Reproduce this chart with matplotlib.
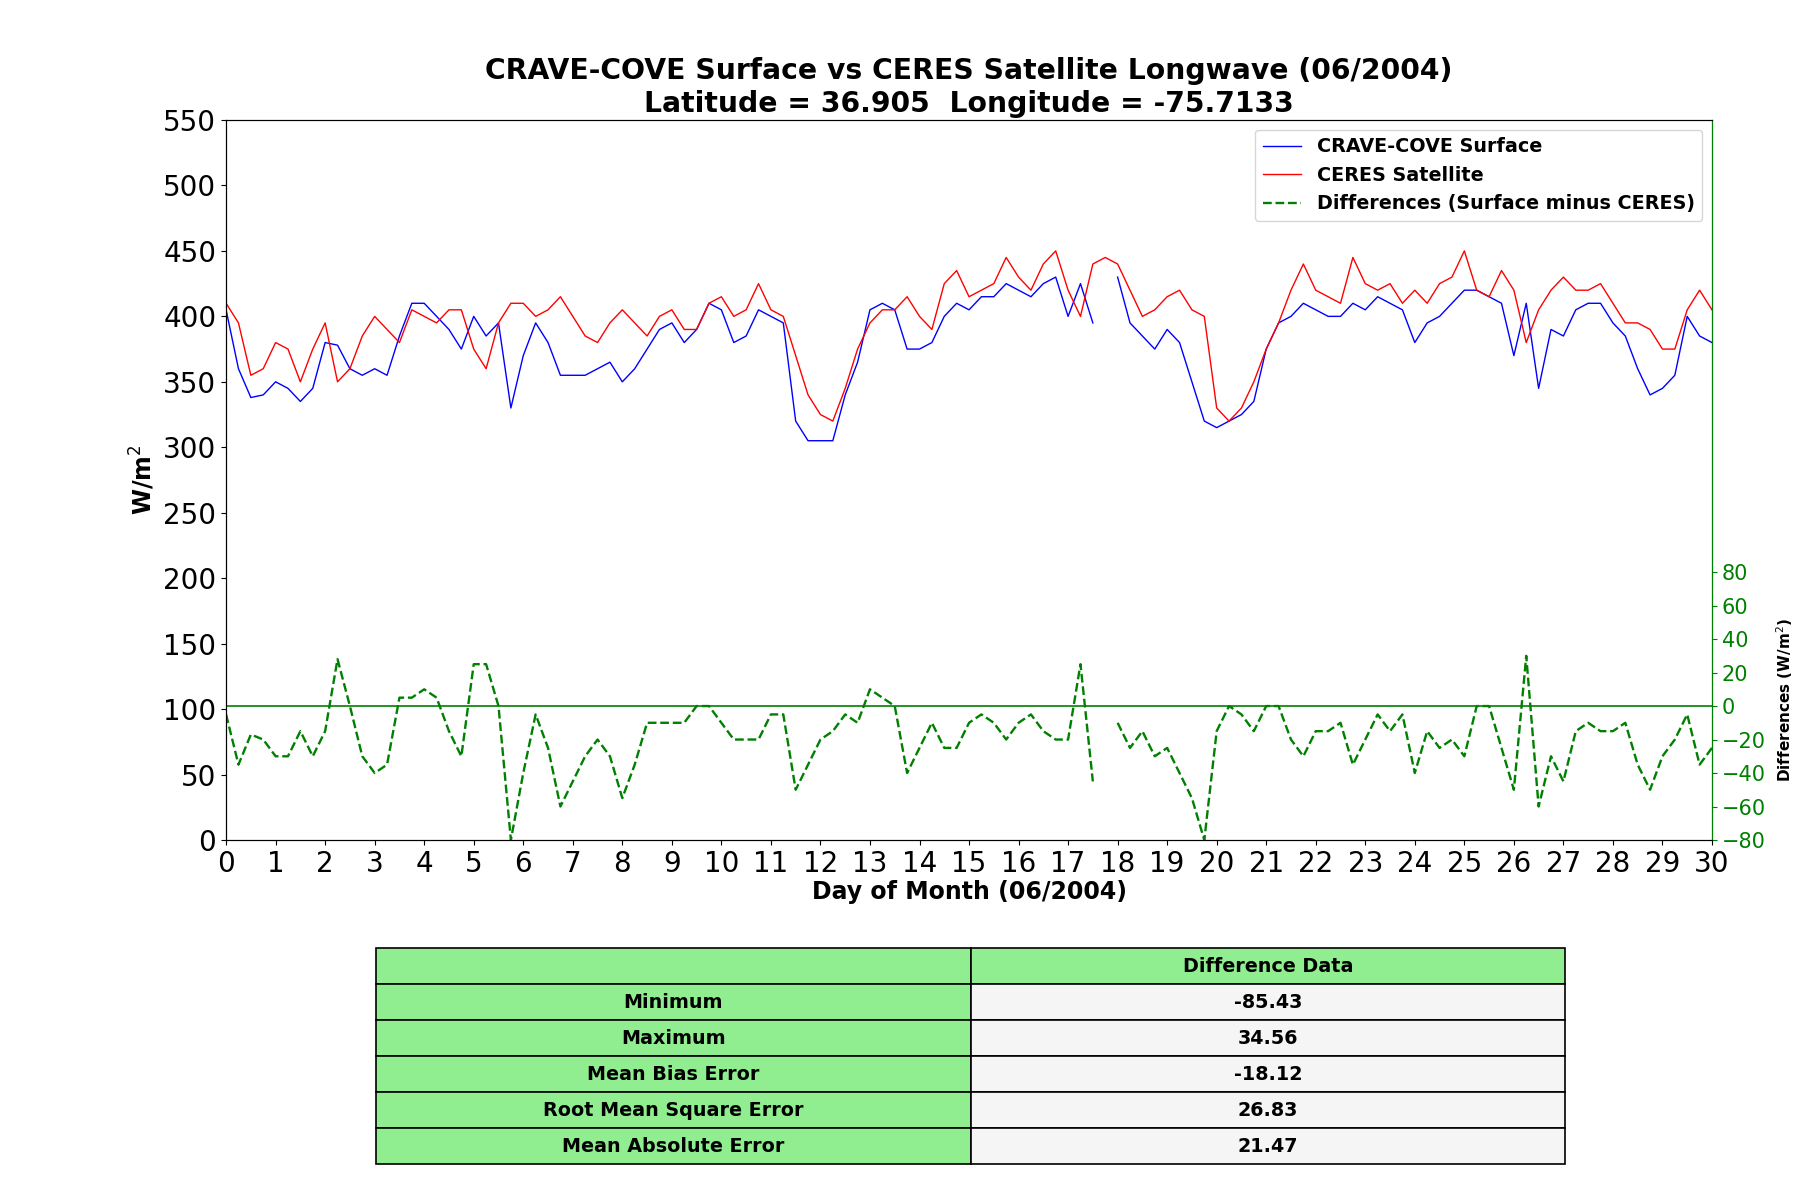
import numpy as np
import matplotlib.pyplot as plt

# sampled every 6 hours, day 0 .. 30
days = np.arange(0, 30.01, 0.25)

surface = [405, 360, 338, 340, 350, 345, 335, 345, 380, 378, 360, 355,
           360, 355, 385, 410, 410, 400, 390, 375, 400, 385, 395, 330,
           370, 395, 380, 355, 355, 355, 360, 365, 350, 360, 375, 390,
           395, 380, 390, 410, 405, 380, 385, 405, 400, 395, 320, 305,
           305, 305, 340, 365, 405, 410, 405, 375, 375, 380, 400, 410,
           405, 415, 415, 425, 420, 415, 425, 430, 400, 425, 395, np.nan,
           430, 395, 385, 375, 390, 380, 350, 320, 315, 320, 325, 335,
           375, 395, 400, 410, 405, 400, 400, 410, 405, 415, 410, 405,
           380, 395, 400, 410, 420, 420, 415, 410, 370, 410, 345, 390,
           385, 405, 410, 410, 395, 385, 360, 340, 345, 355, 400, 385,
           380]

ceres = [410, 395, 355, 360, 380, 375, 350, 375, 395, 350, 360, 385,
         400, 390, 380, 405, 400, 395, 405, 405, 375, 360, 395, 410,
         410, 400, 405, 415, 400, 385, 380, 395, 405, 395, 385, 400,
         405, 390, 390, 410, 415, 400, 405, 425, 405, 400, 370, 340,
         325, 320, 345, 375, 395, 405, 405, 415, 400, 390, 425, 435,
         415, 420, 425, 445, 430, 420, 440, 450, 420, 400, 440, 445,
         440, 420, 400, 405, 415, 420, 405, 400, 330, 320, 330, 350,
         375, 395, 420, 440, 420, 415, 410, 445, 425, 420, 425, 410,
         420, 410, 425, 430, 450, 420, 415, 435, 420, 380, 405, 420,
         430, 420, 420, 425, 410, 395, 395, 390, 375, 375, 405, 420,
         405]

stat_names = ["Minimum", "Maximum", "Mean Bias Error",
              "Root Mean Square Error", "Mean Absolute Error"]
stat_values = ["-85.43", "34.56", "-18.12", "26.83", "21.47"]

surface = np.array(surface, dtype=float)
ceres = np.array(ceres, dtype=float)
diff = surface - ceres

fig = plt.figure(figsize=(18, 12), dpi=100)
ax = fig.add_axes([0.1256, 0.3, 0.8255, 0.6])

l1, = ax.plot(days, surface, color="blue", linewidth=1, label="CRAVE-COVE Surface")
l2, = ax.plot(days, ceres, color="red", linewidth=1, label="CERES Satellite")
ax.set_xlim(0, 30)
ax.set_ylim(0, 550)
ax.set_xticks(np.arange(0, 31, 1))
ax.set_yticks(np.arange(0, 551, 50))
ax.tick_params(axis="both", labelsize=20)
ax.set_xlabel("Day of Month (06/2004)", fontsize=17, fontweight="bold", labelpad=2)
ax.set_ylabel("W/m$^2$", fontsize=17, fontweight="bold")
ax.set_title("CRAVE-COVE Surface vs CERES Satellite Longwave (06/2004)\n"
             "Latitude = 36.905  Longitude = -75.7133",
             fontsize=20.3, fontweight="bold", pad=6)

ax2 = ax.twinx()
l3, = ax2.plot(days, diff, color="green", linestyle="--", linewidth=1.7,
               label="Differences (Surface minus CERES)")
ax2.axhline(0, color="green", linewidth=1.2)
ax2.set_ylim(-80, 350)
ax2.set_yticks(np.arange(-80, 81, 20))
ax2.tick_params(axis="y", colors="green", labelsize=15)
ax2.spines["right"].set_color("green")
ax2.set_ylabel("Differences (W/m$^2$)", fontsize=11, fontweight="bold")
ax2.yaxis.set_label_coords(1.042, 0.195)

ax.legend(handles=[l1, l2, l3], loc="upper right",
          prop={"weight": "bold", "size": 13.8})

# stats table under the plot
tax = fig.add_axes([0.209, 0.03, 0.6605, 0.18])
tax.axis("off")
cells = [["", "Difference Data"]] + [[n, v] for n, v in zip(stat_names, stat_values)]
colors = [["lightgreen", "lightgreen"]] + [["lightgreen", "whitesmoke"]] * len(stat_names)
tbl = tax.table(cellText=cells, cellColours=colors, cellLoc="center",
                bbox=[0, 0, 1, 1])
tbl.auto_set_font_size(False)
for cell in tbl.get_celld().values():
    cell.set_text_props(fontweight="bold", fontsize=13.8)
    cell.set_linewidth(1.2)

fig.savefig("out.png", dpi=100)
